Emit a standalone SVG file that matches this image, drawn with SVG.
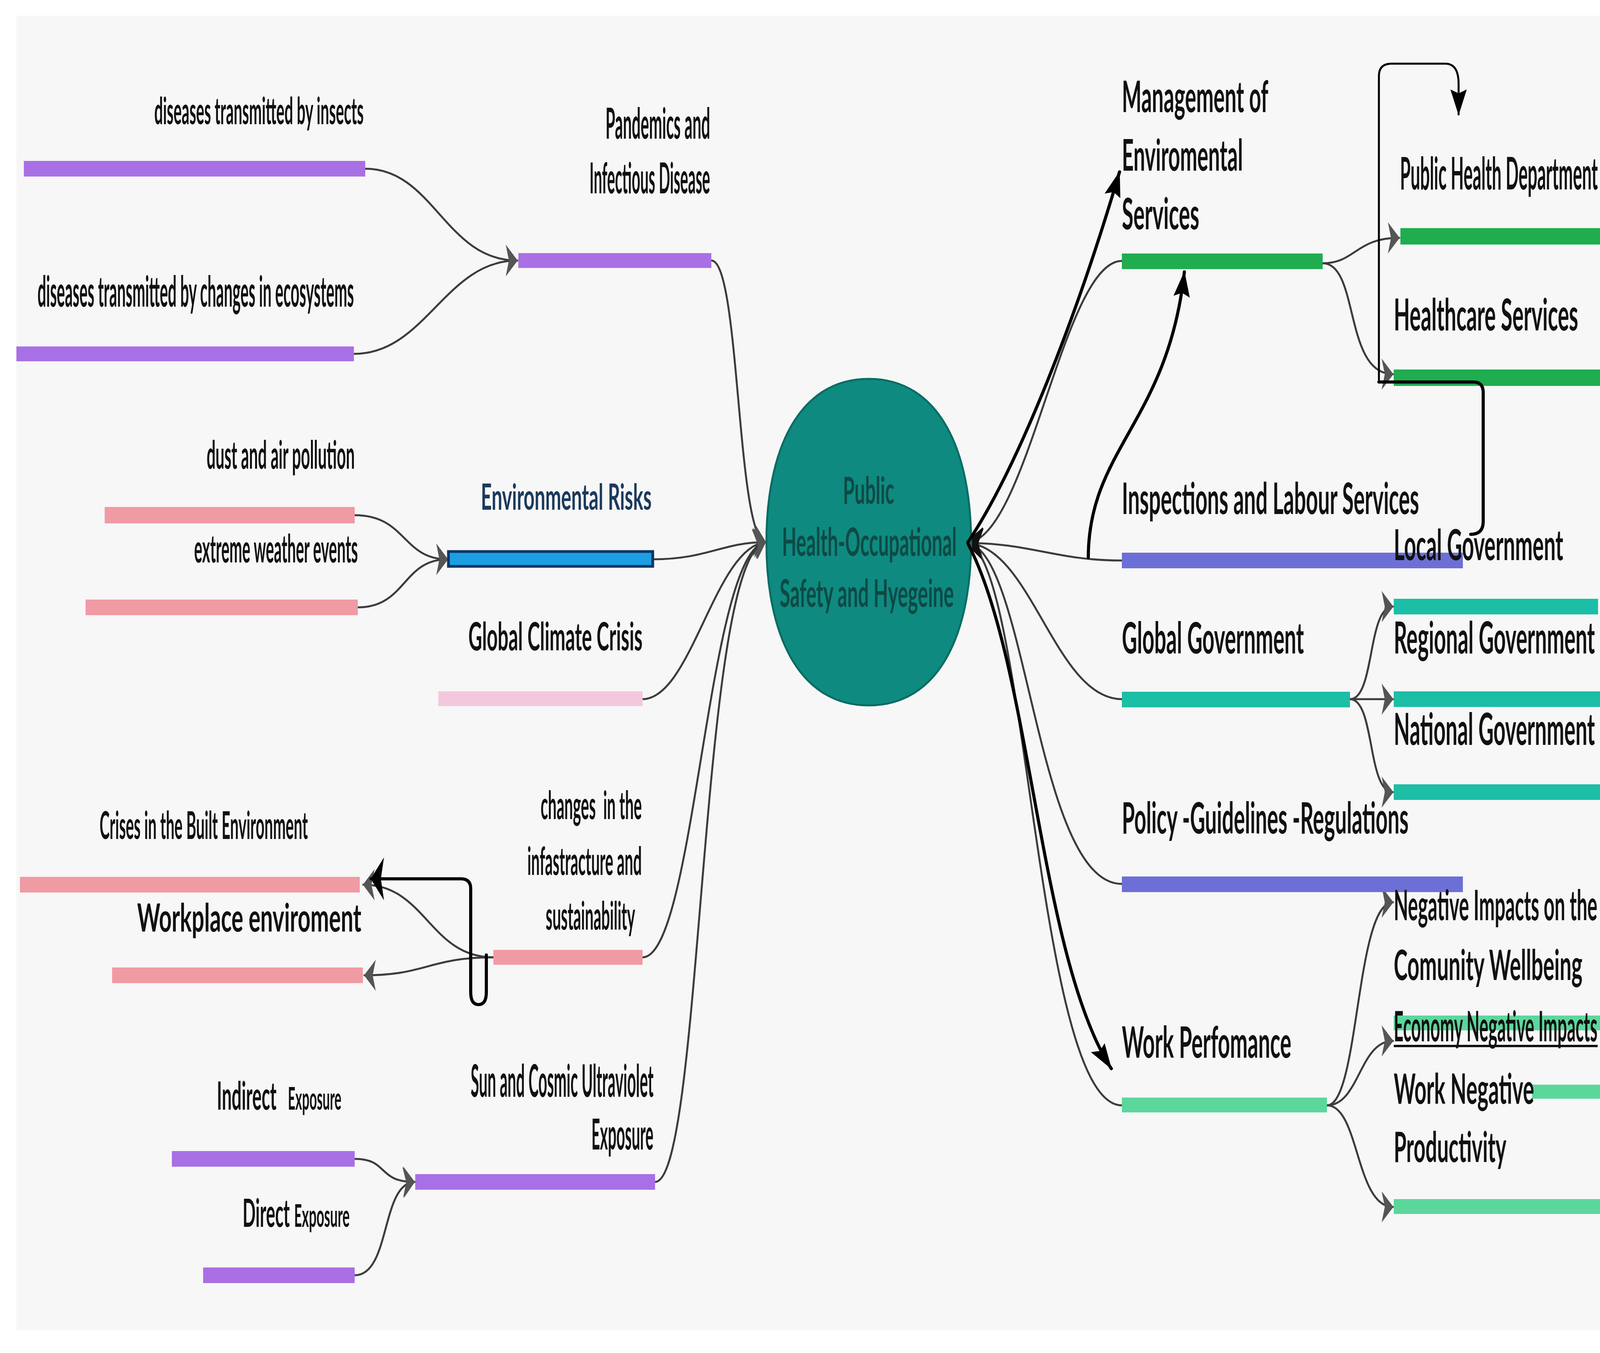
<svg xmlns="http://www.w3.org/2000/svg" width="4381" height="3464" viewBox="0 0 4381 3464">
<defs>
<style>
.t{font-family:Lato,"Open Sans","Liberation Sans",sans-serif;font-weight:bold;fill:#111;}
.ct{fill:#0d4a45}
.c{fill:none;stroke:#3c3c3c;stroke-width:5;stroke-linecap:round}
.k{fill:none;stroke:#000;stroke-width:8;stroke-linecap:round;stroke-linejoin:round}
.kt{fill:none;stroke:#000;stroke-width:5;stroke-linecap:round;stroke-linejoin:round}
.pu{fill:#a870e4}
.pk{fill:#f09aa4}
.lp{fill:#f3c8de}
.bl{fill:#1b9fe2;stroke:#0c3566;stroke-width:7}
.gr{fill:#1fad50}
.vi{fill:#6c70d6}
.te{fill:#1cbea6}
.mi{fill:#5cd79c}
</style>
<marker id="ag" markerUnits="userSpaceOnUse" viewBox="0 0 30 80" markerWidth="30" markerHeight="80" refX="29" refY="40" orient="auto"><path d="M0,0 L30,40 L0,80 L8,40 Z" fill="#555"/></marker>
<marker id="ak" markerUnits="userSpaceOnUse" viewBox="0 0 46 84" markerWidth="46" markerHeight="84" refX="44" refY="42" orient="auto"><path d="M0,2 L46,42 L0,82 L12,42 Z" fill="#111"/></marker>
<marker id="ab" markerUnits="userSpaceOnUse" viewBox="0 0 66 42" markerWidth="66" markerHeight="42" refX="64" refY="21" orient="auto"><path d="M0,0 L66,21 L0,42 L10,21 Z" fill="#000"/></marker>
<marker id="abl" markerUnits="userSpaceOnUse" viewBox="0 0 34 110" markerWidth="34" markerHeight="110" refX="33" refY="55" orient="auto"><path d="M0,0 L34,55 L0,110 L8,55 Z" fill="#000"/></marker>
</defs>
<rect x="0" y="0" width="4381" height="3464" fill="#ffffff"/>
<rect x="42" y="40" width="4298" height="3366" fill="#f7f7f7"/>
<line x1="4235" y1="40" x2="4235" y2="3406" stroke="#c9c9c9" stroke-width="6"/>

<g id="connectors">
<path class="c" d="M935 432 C1110 432 1140 667 1324 667" marker-end="url(#ag)"/>
<path class="c" d="M906 906 C1090 906 1140 667 1324 667" marker-end="url(#ag)"/>
<path class="c" d="M908 1319 C1040 1319 1030 1432 1146 1432" marker-end="url(#ag)"/>
<path class="c" d="M916 1555 C1040 1555 1030 1432 1146 1432" marker-end="url(#ag)"/>
<path class="c" d="M1263 2451 C1100 2451 1090 2265 930 2265" marker-end="url(#ag)"/>
<path class="c" d="M1263 2451 C1100 2451 1090 2497 933 2497" marker-end="url(#ag)"/>
<path class="c" d="M908 2967 C995 2967 965 3026 1061 3026" marker-end="url(#ag)"/>
<path class="c" d="M908 3265 C1000 3265 975 3030 1061 3026" marker-end="url(#ag)"/>
<path class="c" d="M1821 667 C1895 667 1885 1380 1960 1388" marker-end="url(#ag)"/>
<path class="c" d="M1671 1432 C1810 1432 1850 1388 1960 1388" marker-end="url(#ag)"/>
<path class="c" d="M1645 1790 C1770 1790 1830 1400 1960 1388" marker-end="url(#ag)"/>
<path class="c" d="M1645 2451 C1780 2451 1810 1410 1960 1388" marker-end="url(#ag)"/>
<path class="c" d="M1677 3026 C1800 3026 1790 1420 1960 1388" marker-end="url(#ag)"/>
<path class="c" d="M2872 668 C2720 668 2630 1390 2472 1390" marker-end="url(#ak)"/>
<path class="c" d="M2872 1435 C2700 1435 2640 1390 2472 1390" marker-end="url(#ak)"/>
<path class="c" d="M2872 1790 C2700 1790 2640 1392 2472 1390" marker-end="url(#ak)"/>
<path class="c" d="M2872 2263 C2650 2263 2630 1395 2472 1390" marker-end="url(#ak)"/>
<path class="c" d="M2872 2830 C2650 2830 2630 1400 2472 1390" marker-end="url(#ak)"/>
<path class="c" d="M3386 674 C3470 674 3470 609 3582 609" marker-end="url(#ag)"/>
<path class="c" d="M3386 674 C3480 674 3440 958 3566 958" marker-end="url(#ag)"/>
<path class="c" d="M3456 1790 C3520 1790 3500 1553 3566 1553" marker-end="url(#ag)"/>
<path class="c" d="M3456 1790 L3566 1790" marker-end="url(#ag)"/>
<path class="c" d="M3456 1790 C3520 1790 3500 2028 3566 2028" marker-end="url(#ag)"/>
<path class="c" d="M3397 2830 C3480 2830 3470 2310 3566 2310" marker-end="url(#ag)"/>
<path class="c" d="M3397 2830 C3480 2830 3480 2665 3566 2665" marker-end="url(#ag)"/>
<path class="c" d="M3397 2830 C3480 2830 3470 3090 3566 3090" marker-end="url(#ag)"/>
</g>

<g id="center">
<path d="M2224 970 C2407 970 2486 1158 2486 1388 C2486 1618 2407 1806 2224 1806 C2041 1806 1962 1618 1962 1388 C1962 1158 2041 970 2224 970 Z" fill="#0f8a80" stroke="#0a6b63" stroke-width="5"/>
<text class="t ct" font-size="95" transform="matrix(0.46 0 0 1 2158 1290)" textLength="285" lengthAdjust="spacingAndGlyphs">Public</text>
<text class="t ct" font-size="100" transform="matrix(0.47 0 0 1 2002 1423)" textLength="951" lengthAdjust="spacingAndGlyphs">Health-Occupational</text>
<text class="t ct" font-size="97" transform="matrix(0.484 0 0 1 1996 1554)" textLength="921" lengthAdjust="spacingAndGlyphs">Safety and Hyegeine</text>
</g>

<g id="insects"><rect class="pu" x="61" y="412" width="874" height="40"/>
<text class="t" font-size="96" transform="matrix(0.36 0 0 1 395 318)" textLength="1489" lengthAdjust="spacingAndGlyphs">diseases transmitted by insects</text></g>
<g id="pandemics"><rect class="pu" x="1327" y="648" width="494" height="38"/>
<text class="t" font-size="110" transform="matrix(0.375 0 0 1 1550 355)" textLength="715" lengthAdjust="spacingAndGlyphs">Pandemics and</text>
<text class="t" font-size="110" transform="matrix(0.312 0 0 1 1509 495)" textLength="990" lengthAdjust="spacingAndGlyphs">Infectious Disease</text></g>
<g id="ecosystems"><rect class="pu" x="42" y="887" width="864" height="38"/>
<text class="t" font-size="110" transform="matrix(0.327 0 0 1 96 785)" textLength="2477" lengthAdjust="spacingAndGlyphs">diseases transmitted by changes in ecosystems</text></g>
<g id="dust"><rect class="pk" x="268" y="1298" width="640" height="42"/>
<text class="t" font-size="100" transform="matrix(0.345 0 0 1 529 1200)" textLength="1099" lengthAdjust="spacingAndGlyphs">dust and air pollution</text></g>
<g id="weather"><rect class="pk" x="219" y="1535" width="697" height="40"/>
<text class="t" font-size="100" transform="matrix(0.381 0 0 1 497 1440)" textLength="1100" lengthAdjust="spacingAndGlyphs">extreme weather events</text></g>
<g id="envrisks"><rect class="bl" x="1148" y="1412" width="523" height="38"/>
<text class="t" style="fill:#1b3a5c" font-size="92" transform="matrix(0.5 0 0 1 1231 1305)" textLength="874" lengthAdjust="spacingAndGlyphs">Environmental Risks</text></g>
<g id="climate"><rect class="lp" x="1122" y="1770" width="523" height="38"/>
<text class="t" font-size="100" transform="matrix(0.425 0 0 1 1199 1665)" textLength="1049" lengthAdjust="spacingAndGlyphs">Global Climate Crisis</text></g>
<g id="crises"><rect class="pk" x="51" y="2245" width="870" height="40"/>
<text class="t" font-size="97" transform="matrix(0.354 0 0 1 255 2148)" textLength="1506" lengthAdjust="spacingAndGlyphs">Crises in the Built Environment</text></g>
<g id="workplace"><rect class="pk" x="287" y="2477" width="642" height="40"/>
<text class="t" font-size="100" transform="matrix(0.574 0 0 1 351 2385)" textLength="1000" lengthAdjust="spacingAndGlyphs">Workplace enviroment</text></g>
<g id="infra"><rect class="pk" x="1263" y="2432" width="382" height="38"/>
<text class="t" font-size="100" transform="matrix(0.345 0 0 1 1384 2097)" textLength="751" lengthAdjust="spacingAndGlyphs" xml:space="preserve">changes  in the</text>
<text class="t" font-size="100" transform="matrix(0.345 0 0 1 1350 2240)" textLength="849" lengthAdjust="spacingAndGlyphs">infastracture and</text>
<text class="t" font-size="100" transform="matrix(0.327 0 0 1 1397 2380)" textLength="700" lengthAdjust="spacingAndGlyphs">sustainability</text></g>
<g id="uv"><rect class="pu" x="1063" y="3006" width="614" height="40"/>
<text class="t" font-size="115" transform="matrix(0.313 0 0 1 1205 2808)" textLength="1495" lengthAdjust="spacingAndGlyphs">Sun and Cosmic Ultraviolet</text>
<text class="t" font-size="110" transform="matrix(0.361 0 0 1 1514 2943)" textLength="440" lengthAdjust="spacingAndGlyphs">Exposure</text></g>
<g id="indirect"><rect class="pu" x="440" y="2947" width="468" height="40"/>
<text class="t" font-size="100" transform="matrix(0.383 0 0 1 555 2841)" textLength="399" lengthAdjust="spacingAndGlyphs">Indirect</text>
<text class="t" font-size="80" transform="matrix(0.428 0 0 1 737 2841)" textLength="320" lengthAdjust="spacingAndGlyphs">Exposure</text></g>
<g id="direct"><rect class="pu" x="520" y="3245" width="388" height="40"/>
<text class="t" font-size="100" transform="matrix(0.403 0 0 1 621 3141)" textLength="300" lengthAdjust="spacingAndGlyphs">Direct</text>
<text class="t" font-size="80" transform="matrix(0.444 0 0 1 753 3141)" textLength="320" lengthAdjust="spacingAndGlyphs">Exposure</text></g>

<g id="management"><rect class="gr" x="2872" y="649" width="514" height="40"/>
<text class="t" font-size="112" transform="matrix(0.515 0 0 1 2872 287)" textLength="728" lengthAdjust="spacingAndGlyphs">Management of</text>
<text class="t" font-size="112" transform="matrix(0.461 0 0 1 2872 437)" textLength="672" lengthAdjust="spacingAndGlyphs">Enviromental</text>
<text class="t" font-size="112" transform="matrix(0.442 0 0 1 2872 587)" textLength="448" lengthAdjust="spacingAndGlyphs">Services</text></g>
<g id="phd"><rect class="gr" x="3585" y="584" width="696" height="42"/>
<text class="t" font-size="115" transform="matrix(0.367 0 0 1 3584 485)" textLength="1380" lengthAdjust="spacingAndGlyphs">Public Health Department</text></g>
<g id="healthcare"><rect class="gr" x="3568" y="946" width="581" height="42"/>
<text class="t" font-size="114" transform="matrix(0.436 0 0 1 3568 846)" textLength="1083" lengthAdjust="spacingAndGlyphs">Healthcare Services</text></g>
<g id="inspections"><rect class="vi" x="2872" y="1415" width="873" height="40"/>
<text class="t" font-size="112" transform="matrix(0.438 0 0 1 2872 1316)" textLength="1737" lengthAdjust="spacingAndGlyphs">Inspections and Labour Services</text></g>
<g id="localgov">
<text class="t" font-size="110" transform="matrix(0.493 0 0 1 3568 1434)" textLength="880" lengthAdjust="spacingAndGlyphs">Local Government</text></g>
<g id="globalgov"><rect class="te" x="2872" y="1771" width="584" height="40"/>
<text class="t" font-size="112" transform="matrix(0.49 0 0 1 2872 1673)" textLength="951" lengthAdjust="spacingAndGlyphs">Global Government</text></g>
<g id="regional"><rect class="te" x="3568" y="1533" width="523" height="40"/>
<text class="t" font-size="112" transform="matrix(0.484 0 0 1 3568 1673)" textLength="1064" lengthAdjust="spacingAndGlyphs">Regional Government</text></g>
<g id="national"><rect class="te" x="3568" y="1770" width="581" height="40"/>
<text class="t" font-size="112" transform="matrix(0.484 0 0 1 3568 1907)" textLength="1064" lengthAdjust="spacingAndGlyphs">National Government</text></g>
<g id="govbar3"><rect class="te" x="3568" y="2008" width="581" height="40"/></g>
<g id="policy"><rect class="vi" x="2872" y="2244" width="873" height="40"/>
<text class="t" font-size="112" transform="matrix(0.423 0 0 1 2872 2134)" textLength="1735" lengthAdjust="spacingAndGlyphs">Policy -Guidelines -Regulations</text></g>
<g id="workperf"><rect class="mi" x="2872" y="2810" width="525" height="38"/>
<text class="t" font-size="112" transform="matrix(0.517 0 0 1 2872 2708)" textLength="839" lengthAdjust="spacingAndGlyphs">Work Perfomance</text></g>
<g id="community">
<text class="t" font-size="108" transform="matrix(0.42 0 0 1 3568 2356)" textLength="1241" lengthAdjust="spacingAndGlyphs">Negative Impacts on the</text>
<text class="t" font-size="108" transform="matrix(0.497 0 0 1 3568 2509)" textLength="972" lengthAdjust="spacingAndGlyphs">Comunity Wellbeing</text></g>
<g id="economy"><rect class="mi" x="3568" y="2600" width="700" height="38"/>
<text class="t" font-size="108" transform="matrix(0.402 0 0 1 3568 2666)" textLength="1297" lengthAdjust="spacingAndGlyphs">Economy Negative Impacts</text>
<line x1="3568" y1="2678" x2="4090" y2="2678" stroke="#111" stroke-width="6"/></g>
<g id="worknegative"><rect class="mi" x="3922" y="2777" width="402" height="36"/>
<text class="t" font-size="108" transform="matrix(0.511 0 0 1 3568 2826)" textLength="703" lengthAdjust="spacingAndGlyphs">Work Negative</text>
<text class="t" font-size="108" transform="matrix(0.444 0 0 1 3568 2975)" textLength="649" lengthAdjust="spacingAndGlyphs">Productivity</text></g>
<g id="lastbar"><rect class="mi" x="3568" y="3070" width="756" height="38"/></g>

<g id="annotations">
<path class="k" d="M2478 1388 C2610 1190 2760 800 2866 440" marker-end="url(#ab)"/>
<path class="k" d="M2786 1428 C2786 1150 2990 1080 3032 696" marker-end="url(#ab)"/>
<path class="k" d="M2478 1392 C2640 1700 2660 2450 2845 2736" marker-end="url(#ab)"/>
<path class="kt" d="M3530 975 L3530 195 Q3530 163 3562 163 L3700 163 Q3734 163 3734 215 L3734 293" marker-end="url(#ab)"/>
<path class="k" d="M3530 978 L3772 978 Q3797 978 3797 1005 L3797 1335 Q3797 1368 3765 1368"/>
<path class="k" d="M1245 2445 L1245 2540 Q1245 2572 1225 2572 Q1205 2572 1205 2540 L1205 2275 Q1205 2250 1180 2250 L950 2250" marker-end="url(#abl)"/>
</g>
</svg>
